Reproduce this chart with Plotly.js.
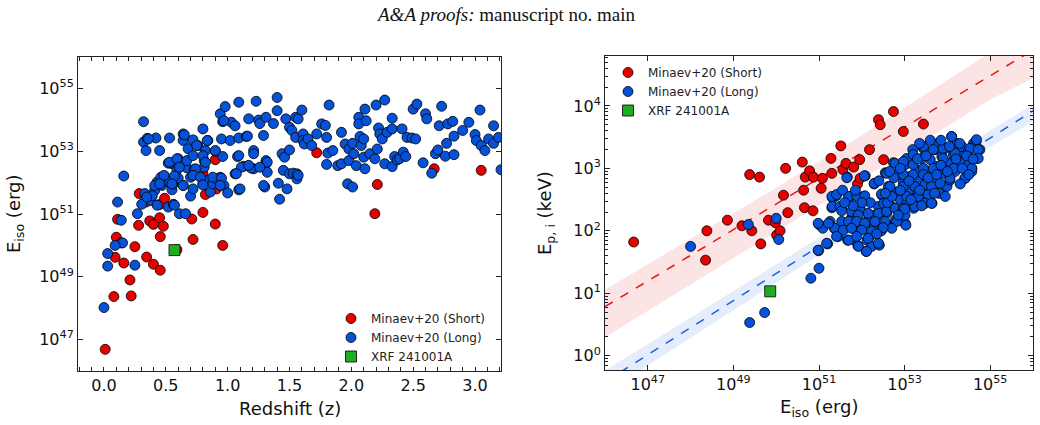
<!DOCTYPE html>
<html>
<head>
<meta charset="utf-8">
<script src="https://cdn.plot.ly/plotly-3.0.1.min.js"></script>
<style>html,body{margin:0;padding:0;background:#fff;}#chart{width:1040px;height:425px;}</style>
</head>
<body>
<div id="chart"></div>
<script>
// ---------- Left panel: Redshift vs log10(Eiso) ----------
const shortZ = [0.01,0.08,0.22,0.21,0.09,0.16,0.25,0.10,0.14,0.11,0.28,0.285,0.345,0.40,0.455,0.455,0.37,0.40,0.45,0.48,0.34,0.45,0.49,0.59,0.71,0.72,0.80,0.90,0.96,0.90,0.82,0.91,0.80,1.13,1.72,2.19,2.21,2.67,3.05];
const shortLogEiso = [46.69,48.37,48.39,48.90,49.62,49.44,49.96,50.26,50.08,50.83,50.64,51.65,49.63,49.40,49.21,50.28,50.78,50.67,50.88,50.61,51.38,51.30,51.50,49.86,50.84,50.19,51.05,50.68,50.00,52.73,51.62,51.80,52.30,52.52,52.95,51.01,51.94,52.44,52.39];

const longZ = [0.00,0.03,0.03,0.11,0.14,0.15,0.09,0.16,0.25,0.27,0.305,0.33,0.38,0.41,0.43,0.43,0.47,0.49,0.55,0.56,0.52,0.56,0.61,0.66,0.64,0.60,0.55,0.60,0.67,0.70,0.70,0.72,0.73,0.76,0.67,0.64,0.64,0.72,0.80,0.84,0.82,0.81,0.81,0.80,0.84,0.86,0.88,0.91,0.94,0.97,1.00,0.90,0.96,0.95,1.02,0.94,0.98,0.96,1.03,1.06,1.09,1.09,1.08,1.15,1.17,1.11,1.06,1.09,1.23,1.21,1.21,1.25,1.26,1.29,1.31,1.31,1.31,1.32,1.30,1.29,1.32,1.37,1.40,1.40,1.41,1.42,1.44,1.46,1.45,1.47,1.48,1.50,1.50,1.50,1.52,1.53,1.55,1.55,1.56,1.56,1.57,1.57,1.60,1.61,1.61,1.62,1.65,1.68,1.72,1.76,1.79,1.80,1.80,1.82,1.81,1.85,1.89,1.92,1.92,1.95,1.98,1.98,1.97,2.01,2.01,2.02,2.04,2.06,2.06,2.07,2.08,2.10,2.10,2.11,2.11,2.12,2.15,2.19,2.20,2.21,2.22,2.23,2.25,2.27,2.27,2.29,2.33,2.33,2.33,2.35,2.37,2.39,2.41,2.42,2.44,2.45,2.49,2.50,2.52,2.53,2.58,2.60,2.61,2.65,2.68,2.70,2.71,2.73,2.76,2.77,2.78,2.82,2.83,2.83,2.90,2.95,3.00,3.01,3.04,3.05,3.08,3.11,3.15,3.15,3.19,3.21,0.32,0.32,0.35,0.34,0.42,0.45,0.53,0.52,0.59,0.39,0.345,0.46,0.50,0.53,0.41,0.57,0.36,0.65,0.68,0.75,0.835,0.90,0.97,1.16,1.21,1.09,1.19,0.53,0.59,0.61,0.72,0.80,0.82,0.74,0.485,0.57,0.72,0.78,0.88,0.95,0.45,0.55,0.64,0.80,0.94,1.10,1.07,1.17,1.26];
const longLogEiso = [48.02,49.74,49.34,51.38,50.80,50.08,50.00,52.21,49.37,51.01,51.31,51.65,51.43,51.75,51.28,52.02,51.91,52.20,51.77,51.96,51.22,51.31,51.01,51.01,51.91,52.14,52.60,52.76,52.47,52.17,51.57,51.80,52.42,53.18,52.70,53.34,53.55,53.36,53.71,53.34,53.02,52.70,52.49,51.96,52.07,51.70,51.96,52.12,52.17,51.91,51.67,53.00,52.83,53.39,53.34,54.19,54.42,53.94,53.92,53.81,54.56,53.42,52.83,53.47,54.03,52.49,52.28,51.77,54.59,53.02,52.44,53.99,53.88,53.50,54.08,52.70,52.60,52.65,51.86,51.91,52.33,53.88,54.71,54.29,51.98,51.47,52.92,52.81,52.39,54.03,51.80,53.76,53.04,52.28,53.66,52.30,54.08,53.44,52.12,52.28,54.03,52.23,54.31,53.55,53.34,53.23,53.39,53.18,53.55,53.87,53.82,53.44,52.58,54.47,52.94,53.02,52.54,52.60,53.60,53.23,53.07,52.70,51.96,51.86,53.25,52.92,52.54,54.08,53.87,53.47,53.18,52.81,53.39,54.34,52.44,53.97,52.92,52.76,54.47,53.07,53.74,53.55,53.39,52.60,54.63,53.60,54.05,53.71,52.51,52.83,52.72,52.76,53.71,52.97,52.83,53.44,53.42,54.34,53.39,54.50,52.63,54.19,54.03,52.30,52.92,53.04,53.81,54.43,52.84,53.25,53.87,53.95,53.48,52.89,53.66,53.92,53.53,53.34,54.31,53.18,53.02,53.39,53.81,53.25,53.44,52.41,53.94,53.29,53.41,53.02,53.42,53.02,53.42,52.62,52.41,51.58,51.54,52.17,52.05,52.02,51.91,51.28,53.39,53.52,53.08,53.18,53.34,53.02,53.97,53.48,52.92,52.86,52.46,52.65,52.76,52.49,52.86,52.86,52.65,52.44,52.23,52.21,52.23,52.17,52.17,52.14,51.96,51.96,51.91,51.93,51.91,51.80,52.28,52.55,52.49];

const xrfZ = [0.57];
const xrfLogEiso = [49.85];

// ---------- Right panel: log10(Eiso) vs log10(Ep,i) ----------
const epShortLogEiso = [46.67,48.35,48.38,48.86,49.20,49.38,49.43,49.61,49.64,49.82,49.98,50.01,50.09,50.17,50.22,50.27,50.61,50.64,50.66,50.68,50.78,50.86,50.87,51.05,51.08,51.28,51.30,51.51,51.56,51.63,51.81,51.90,51.95,52.18,52.39,52.43,52.51,52.74,52.97,53.44,51.96];
const epShortLogEp   = [1.82,1.53,2.00,2.17,2.08,2.90,2.00,2.86,1.79,2.17,2.13,1.93,2.00,2.57,3.00,2.29,3.10,2.65,2.37,2.86,2.96,2.32,2.86,2.68,2.84,3.16,2.92,3.36,2.98,3.08,3.02,2.75,3.14,3.30,3.78,3.70,3.14,3.91,3.59,3.71,2.84];

const epLongLogEiso = [48.00,49.38,49.73,49.35,50.00,50.06,50.81,51.00,50.99,51.00,51.09,51.20,51.26,51.30,51.32,51.40,51.36,51.45,51.53,51.53,51.66,51.67,51.73,51.77,51.81,51.83,51.88,51.91,51.96,52.00,52.04,52.08,52.10,52.12,52.16,52.19,52.23,52.27,52.29,52.31,52.39,52.41,52.43,52.47,52.51,52.55,52.58,52.62,52.66,52.70,52.74,52.78,52.82,52.86,52.90,52.93,52.97,53.01,53.01,53.05,53.09,53.13,53.16,53.19,53.21,53.25,53.29,53.32,53.36,53.40,53.44,53.48,53.52,53.56,53.60,53.64,53.67,53.71,53.75,53.79,53.83,53.87,53.91,53.95,53.99,54.02,54.06,54.10,54.14,54.18,54.22,54.28,54.34,54.34,54.41,54.45,54.49,54.57,54.61,54.67,54.69,54.76,54.57,
51.30,51.41,51.31,51.49,51.69,51.88,52.07,52.29,52.46,52.66,52.58,52.78,52.85,51.65,52.06,51.53,51.76,51.96,51.92,52.15,52.39,52.58,52.78,51.69,51.88,52.07,52.31,52.54,52.82,51.37,51.57,51.76,52.00,52.23,52.46,52.70,51.69,51.88,52.15,52.39,51.92,52.11,50.98,51.22,51.41,51.18,50.98,
53.05,53.20,53.44,53.67,53.90,54.10,54.29,54.53,54.68,54.72,54.72,54.57,54.41,54.18,54.29,53.90,53.67,53.90,54.14,53.44,53.20,52.97,52.97,53.20,53.44,53.67,54.06,52.97,53.24,53.48,53.63,53.83,53.81,53.05,53.32,53.55,52.97,53.24,53.48,53.63,53.01,53.03,
52.60,52.70,52.90,52.75,52.90,53.10,53.15,53.35,53.40,53.55,53.70,53.75,53.85,54.00,54.20,54.35,54.45,54.50,54.60,54.30,53.95,53.30,53.50,53.00,52.85,52.50,52.35,52.55,52.20,52.00,51.80,51.60,51.55,51.85,52.40,52.65,53.35,53.60,53.85,54.05];
const epLongLogEp = [1.75,0.53,0.69,2.10,2.20,1.86,1.24,1.40,1.68,2.10,2.04,1.79,2.15,2.37,2.52,2.56,2.04,1.91,2.37,2.15,2.86,1.85,2.55,2.23,2.04,1.85,2.28,1.76,2.36,2.04,2.55,2.88,1.67,1.85,2.17,1.91,1.75,2.04,2.75,2.25,2.39,1.77,2.15,2.57,2.44,2.93,2.28,2.71,2.07,2.39,3.09,2.17,2.62,2.92,2.50,2.28,2.77,3.06,2.12,2.44,2.62,2.87,3.11,3.30,2.36,2.71,2.55,2.97,2.81,3.16,3.32,2.50,2.71,2.95,3.14,2.44,2.81,3.30,3.03,3.40,2.62,3.19,2.92,3.32,2.71,3.08,2.81,3.51,3.22,2.95,3.40,3.08,3.24,3.35,2.84,3.08,3.27,3.00,3.40,3.43,3.16,3.30,2.95,
2.55,2.58,2.39,2.39,2.55,2.56,2.56,2.76,2.59,2.71,2.92,3.08,2.90,2.85,2.88,2.32,2.31,2.33,2.25,2.28,2.28,2.31,2.36,2.15,2.15,2.12,2.15,2.15,2.15,2.04,2.01,2.04,2.01,1.99,2.00,2.04,1.85,1.91,1.88,1.80,1.75,1.67,2.12,2.12,1.91,1.80,1.69,
3.16,3.22,3.35,3.30,3.32,3.51,3.40,3.32,3.46,3.30,3.16,3.00,2.84,3.24,3.11,3.16,3.00,3.00,3.00,3.00,3.06,3.11,2.90,2.90,2.90,2.84,2.84,2.71,2.71,2.74,2.71,2.76,2.60,2.55,2.55,2.58,2.36,2.39,2.44,2.44,2.25,2.09,
2.45,2.55,2.65,2.85,3.00,2.80,2.50,2.65,2.40,2.85,2.60,2.90,3.05,2.95,3.15,3.00,3.20,2.90,3.15,2.75,2.55,3.15,3.20,2.35,2.25,2.05,1.95,2.60,2.45,2.45,2.40,2.45,2.65,2.65,2.80,2.95,3.40,3.45,3.45,3.35];

const xrfEpLogEiso = [49.86];
const xrfLogEp = [1.03];

// Best-fit relations and their shaded bands (log10 values)
const lineLogEiso = [46, 56];
const redLineLogEp = [0.785, 4.895];
const blueLineLogEp = [-0.42, 3.92];
const bandLogEiso = [46, 48, 50, 52, 54, 55, 56];
const redUpperLogEp = [1.055, 1.867, 2.689, 3.531, 4.403, 4.854, 5.315];
const redLowerLogEp = [0.295, 1.137, 1.979, 2.831, 3.673, 4.104, 4.445];
const blueUpperLogEp = [-0.24, 0.608, 1.456, 2.314, 3.172, 3.606, 4.02];
const blueLowerLogEp = [-0.60, 0.288, 1.176, 2.054, 2.922, 3.346, 3.75];

// Tick labels
const leftXTicks = [0.0, 0.5, 1.0, 1.5, 2.0, 2.5, 3.0];
const leftYTickExp = [47, 49, 51, 53, 55];
const rightXTickExp = [47, 49, 51, 53, 55];
const rightYTickExp = [0, 1, 2, 3, 4];

const pw = a => a.map(v => Math.pow(10, v));
const sup = a => a.map(e => '10<sup style="font-size:88%">' + e + '</sup>');

const RED = '#e60000', BLUE = '#0552d9', GREEN = '#1fae1f';
const mk = (c, sym, s) => ({color: c, symbol: sym, size: s, line: {color: '#000', width: 0.8}});

const traces = [
  // left panel
  {x: shortZ, y: pw(shortLogEiso), mode: 'markers', type: 'scatter', name: 'Minaev+20 (Short)', marker: mk(RED, 'circle', 10), xaxis: 'x', yaxis: 'y', legend: 'legend'},
  {x: longZ, y: pw(longLogEiso), mode: 'markers', type: 'scatter', name: 'Minaev+20 (Long)', marker: mk(BLUE, 'circle', 10), xaxis: 'x', yaxis: 'y', legend: 'legend'},
  {x: xrfZ, y: pw(xrfLogEiso), mode: 'markers', type: 'scatter', name: 'XRF 241001A', marker: mk(GREEN, 'square', 11), xaxis: 'x', yaxis: 'y', legend: 'legend'},
  // right panel bands
  {x: pw(bandLogEiso), y: pw(redLowerLogEp), mode: 'lines', line: {width: 0}, showlegend: false, hoverinfo: 'skip', xaxis: 'x2', yaxis: 'y2', legend: 'legend2'},
  {x: pw(bandLogEiso), y: pw(redUpperLogEp), mode: 'lines', line: {width: 0}, fill: 'tonexty', fillcolor: 'rgba(245,165,165,0.30)', showlegend: false, hoverinfo: 'skip', xaxis: 'x2', yaxis: 'y2', legend: 'legend2'},
  {x: pw(bandLogEiso), y: pw(blueLowerLogEp), mode: 'lines', line: {width: 0}, showlegend: false, hoverinfo: 'skip', xaxis: 'x2', yaxis: 'y2', legend: 'legend2'},
  {x: pw(bandLogEiso), y: pw(blueUpperLogEp), mode: 'lines', line: {width: 0}, fill: 'tonexty', fillcolor: 'rgba(150,180,240,0.25)', showlegend: false, hoverinfo: 'skip', xaxis: 'x2', yaxis: 'y2', legend: 'legend2'},
  {x: pw(lineLogEiso), y: pw(redLineLogEp), mode: 'lines', line: {color: '#ee1515', width: 1.5, dash: 'dash'}, showlegend: false, hoverinfo: 'skip', xaxis: 'x2', yaxis: 'y2', legend: 'legend2'},
  {x: pw(lineLogEiso), y: pw(blueLineLogEp), mode: 'lines', line: {color: '#1a5fe6', width: 1.5, dash: 'dash'}, showlegend: false, hoverinfo: 'skip', xaxis: 'x2', yaxis: 'y2', legend: 'legend2'},
  // right panel points
  {x: pw(epShortLogEiso), y: pw(epShortLogEp), mode: 'markers', type: 'scatter', name: 'Minaev+20 (Short)', marker: mk(RED, 'circle', 10), xaxis: 'x2', yaxis: 'y2', legend: 'legend2'},
  {x: pw(epLongLogEiso), y: pw(epLongLogEp), mode: 'markers', type: 'scatter', name: 'Minaev+20 (Long)', marker: mk(BLUE, 'circle', 10), xaxis: 'x2', yaxis: 'y2', legend: 'legend2'},
  {x: pw(xrfEpLogEiso), y: pw(xrfLogEp), mode: 'markers', type: 'scatter', name: 'XRF 241001A', marker: mk(GREEN, 'square', 11), xaxis: 'x2', yaxis: 'y2', legend: 'legend2'}
];

// minor ticks for right y axis (log decades)
const minorY = [];
for (let d = -1; d <= 4; d++) for (let k = 2; k <= 9; k++) minorY.push(k * Math.pow(10, d));

const W = 1040, H = 425;
const TICKSIZE = 16, TITLESIZE = 18;
const axBase = {
  showgrid: false, zeroline: false, showline: true, linecolor: '#222', linewidth: 1,
  mirror: 'allticks', ticks: 'inside', tickcolor: '#222', ticklen: 5, tickwidth: 1,
  automargin: false,
  tickfont: {family: 'DejaVu Sans', size: TICKSIZE, color: '#111'}
};
const annFont = {family: 'DejaVu Sans', size: TITLESIZE, color: '#111'};

const layout = {
  width: W, height: H, margin: {l: 0, r: 0, t: 0, b: 0},
  paper_bgcolor: '#fff', plot_bgcolor: '#fff',
  font: {family: 'DejaVu Sans', size: TICKSIZE, color: '#111'},
  xaxis: Object.assign({}, axBase, {
    domain: [78 / W, 501 / W], anchor: 'y', range: [-0.21, 3.21],
    tickmode: 'array', tickvals: leftXTicks, ticktext: leftXTicks.map(v => v.toFixed(1)), ticklen: 4,
    minor: {dtick: 0.1, tick0: 0, ticks: 'inside', ticklen: 4, tickcolor: '#222', showgrid: false}
  }),
  yaxis: Object.assign({}, axBase, {
    domain: [1 - 371 / H, 1 - 57 / H], anchor: 'x', type: 'log', range: [46, 56],
    tickmode: 'array', tickvals: pw(leftYTickExp), ticktext: sup(leftYTickExp)
  }),
  xaxis2: Object.assign({}, axBase, {
    domain: [605 / W, 1033 / W], anchor: 'y2', type: 'log', range: [46, 56],
    tickmode: 'array', tickvals: pw(rightXTickExp), ticktext: sup(rightXTickExp)
  }),
  yaxis2: Object.assign({}, axBase, {
    domain: [1 - 370 / H, 1 - 56 / H], anchor: 'x2', type: 'log', range: [-0.23, 4.8],
    tickmode: 'array', tickvals: pw(rightYTickExp), ticktext: sup(rightYTickExp),
    minor: {tickmode: 'array', tickvals: minorY, ticks: 'inside', ticklen: 3, tickcolor: '#222', showgrid: false}
  }),
  legend: {x: 331 / W, y: 1 - 304 / H, xanchor: 'left', yanchor: 'top', bgcolor: 'rgba(0,0,0,0)', traceorder: 'normal',
    font: {family: 'DejaVu Sans', size: 12, color: '#222'}, tracegroupgap: 0},
  legend2: {x: 608 / W, y: 1 - 58 / H, xanchor: 'left', yanchor: 'top', bgcolor: 'rgba(0,0,0,0)', traceorder: 'normal',
    font: {family: 'DejaVu Sans', size: 12, color: '#222'}, tracegroupgap: 0},
  annotations: [
    {text: '<i>A&amp;A proofs:</i> manuscript no. main', showarrow: false,
     xref: 'paper', yref: 'paper', x: 506 / W, y: 1 - 14 / H, xanchor: 'center', yanchor: 'middle',
     font: {family: 'Liberation Serif', size: 19, color: '#111'}},
    {text: 'Redshift (z)', showarrow: false, xref: 'paper', yref: 'paper',
     x: 290 / W, y: 1 - 408 / H, xanchor: 'center', yanchor: 'middle', font: annFont},
    {text: 'E<sub>iso</sub> (erg)', showarrow: false, xref: 'paper', yref: 'paper', textangle: -90,
     x: 15 / W, y: 1 - 214 / H, xanchor: 'center', yanchor: 'middle', font: annFont},
    {text: 'E<sub>iso</sub> (erg)', showarrow: false, xref: 'paper', yref: 'paper',
     x: 819 / W, y: 1 - 408 / H, xanchor: 'center', yanchor: 'middle', font: annFont},
    {text: 'E<sub>p, i</sub> (keV)', showarrow: false, xref: 'paper', yref: 'paper', textangle: -90,
     x: 546 / W, y: 1 - 213 / H, xanchor: 'center', yanchor: 'middle', font: annFont}
  ]
};

Plotly.newPlot('chart', traces, layout, {displayModeBar: false, staticPlot: true});
</script>
</body>
</html>
